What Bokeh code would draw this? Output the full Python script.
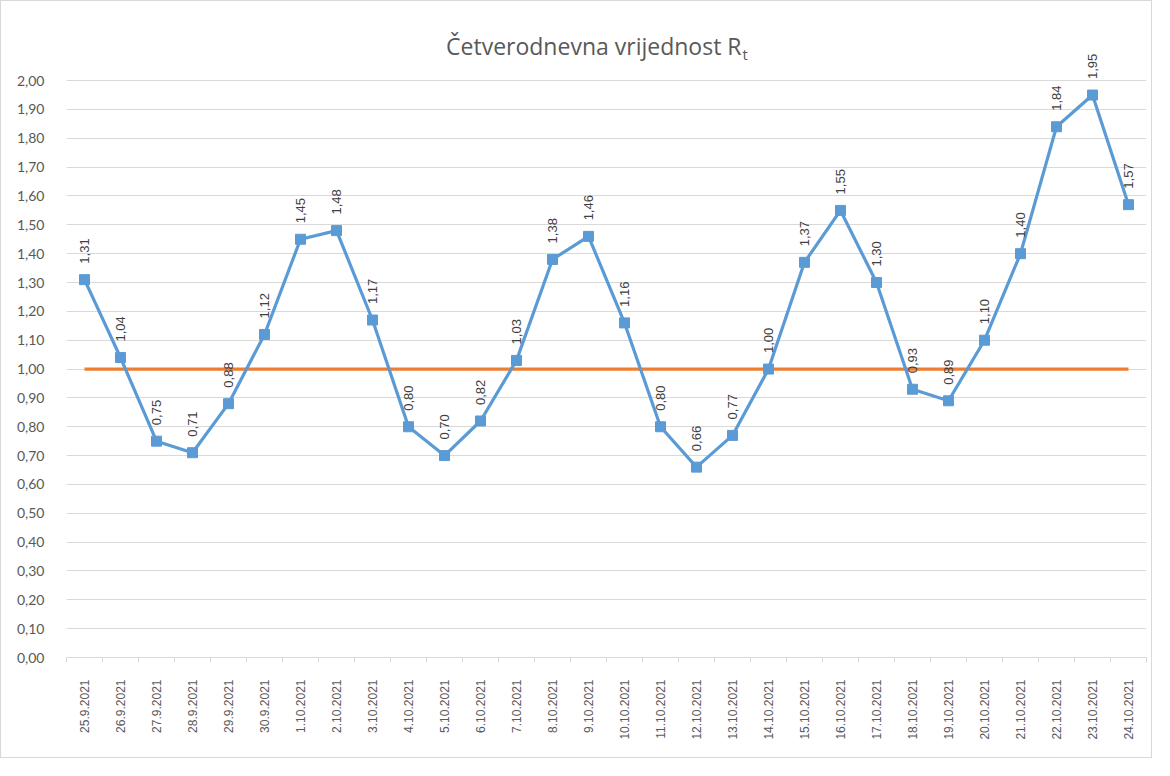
import math
from bokeh.plotting import figure
from bokeh.models import (ColumnDataSource, FixedTicker, CustomJSTickFormatter,
                          LabelSet, Label, Range1d)
from bokeh.core.properties import value
from bokeh.embed import file_html
from bokeh.resources import INLINE

dates = ["25.9.2021", "26.9.2021", "27.9.2021", "28.9.2021", "29.9.2021", "30.9.2021",
         "1.10.2021", "2.10.2021", "3.10.2021", "4.10.2021", "5.10.2021", "6.10.2021",
         "7.10.2021", "8.10.2021", "9.10.2021", "10.10.2021", "11.10.2021", "12.10.2021",
         "13.10.2021", "14.10.2021", "15.10.2021", "16.10.2021", "17.10.2021", "18.10.2021",
         "19.10.2021", "20.10.2021", "21.10.2021", "22.10.2021", "23.10.2021", "24.10.2021"]
rt_values = [1.31, 1.04, 0.75, 0.71, 0.88, 1.12, 1.45, 1.48, 1.17, 0.80, 0.70, 0.82,
             1.03, 1.38, 1.46, 1.16, 0.80, 0.66, 0.77, 1.00, 1.37, 1.55, 1.30, 0.93,
             0.89, 1.10, 1.40, 1.84, 1.95, 1.57]
threshold = [1.00] * 30
y_ticks = [0.0, 0.1, 0.2, 0.3, 0.4, 0.5, 0.6, 0.7, 0.8, 0.9, 1.0,
           1.1, 1.2, 1.3, 1.4, 1.5, 1.6, 1.7, 1.8, 1.9, 2.0]
title_main = "Četverodnevna vrijednost R"
title_sub = "t"

n = len(dates)
xs = [i + 0.5 for i in range(n)]
src = ColumnDataSource(dict(
    x=xs, y=rt_values, thr=threshold,
    lbl=[f"{v:.2f}".replace(".", ",") for v in rt_values],
))

p = figure(width=1152, height=758, output_backend="svg", toolbar_location=None,
           x_range=Range1d(0, n), y_range=Range1d(0, 2.25),
           min_border_left=65, min_border_right=7, min_border_top=7,
           min_border_bottom=102)
p.outline_line_color = None
p.background_fill_color = "white"
p.border_fill_color = "white"
p.styles = {"border": "1px solid #d9d9d9"}

# axes
p.yaxis.ticker = FixedTicker(ticks=y_ticks)
p.yaxis.formatter = CustomJSTickFormatter(code="return tick.toFixed(2).replace('.', ',');")
p.yaxis.axis_line_color = None
p.yaxis.major_tick_line_color = None
p.yaxis.minor_tick_line_color = None
p.yaxis.major_label_standoff = 16
p.yaxis.major_label_text_font = "Lato"
p.yaxis.major_label_text_font_size = "14px"
p.yaxis.major_label_text_color = "#595959"

p.xaxis.ticker = FixedTicker(ticks=xs, minor_ticks=list(range(n + 1)))
p.xaxis.major_label_overrides = {x: d for x, d in zip(xs, dates)}
p.xaxis.major_label_orientation = math.pi / 2
p.xaxis.axis_line_color = "#d9d9d9"
p.xaxis.major_tick_line_color = None
p.xaxis.minor_tick_line_color = "#d9d9d9"
p.xaxis.minor_tick_in = 0
p.xaxis.minor_tick_out = 5
p.xaxis.major_label_standoff = 16
p.xaxis.major_label_text_font = "Liberation Sans"
p.xaxis.major_label_text_font_size = "12px"
p.xaxis.major_label_text_color = "#595959"

p.xgrid.grid_line_color = None
p.ygrid.ticker = FixedTicker(ticks=y_ticks)
p.ygrid.grid_line_color = "#d9d9d9"
p.ygrid.grid_line_width = 1

# series
p.line("x", "thr", source=src, line_color="#ED7D31", line_width=3.2)
p.line("x", "y", source=src, line_color="#5B9BD5", line_width=3.2)
p.scatter("x", "y", source=src, marker="square", size=10,
          fill_color="#5B9BD5", line_color="#5B9BD5")

labels = LabelSet(x="x", y="y", text="lbl", source=src, angle=math.pi / 2,
                  text_align="left", text_baseline="middle", y_offset=16,
                  text_font=value("Liberation Sans"), text_font_size=value("13px"),
                  text_color=value("#404040"))
p.add_layout(labels)

# title with subscript
title_x = 18.75
title_y = 2.12
p.add_layout(Label(x=title_x, y=title_y, text=title_main, text_align="right",
                   text_baseline="middle", text_font="Open Sans", text_font_size="23px",
                   text_color="#595959"))
p.add_layout(Label(x=title_x, y=title_y, x_offset=1, y_offset=-8, text=title_sub,
                   text_align="left", text_baseline="middle", text_font="Open Sans",
                   text_font_size="15px", text_color="#595959"))

open("out.html", "w").write(file_html(p, INLINE))
